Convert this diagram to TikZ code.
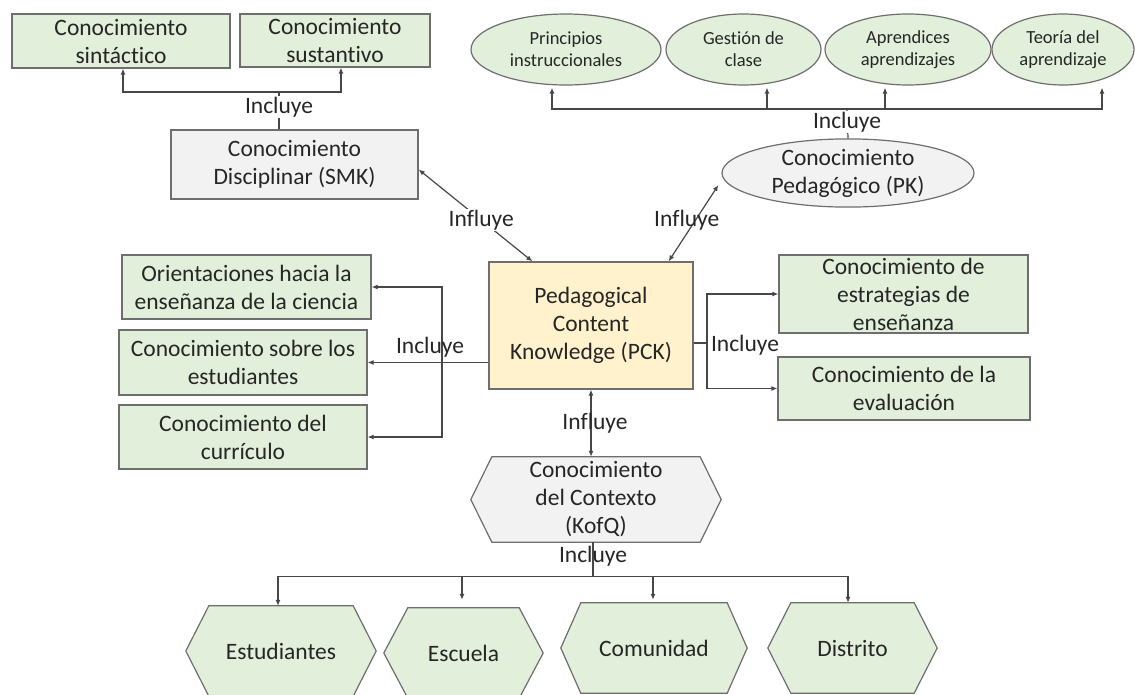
\documentclass[tikz,border=0pt]{standalone}
\usepackage{fontspec}
\setmainfont{Carlito}[Ligatures=NoCommon]
\usetikzlibrary{arrows.meta,calc,shapes.geometric}

\definecolor{greenc}{HTML}{E2EFDA}
\definecolor{pckc}{HTML}{FFF2CC}
\definecolor{grayc}{HTML}{F2F2F2}
\definecolor{bordc}{HTML}{6E6E6E}
\definecolor{linec}{HTML}{474747}
\definecolor{txtc}{HTML}{262626}

\newcommand\mainfs{\fontsize{23.5}{28}\selectfont}
\newcommand\smallfs{\fontsize{18.5}{22}\selectfont}

% hexagon outline drawn around a (rectangular, borderless) node:
% #1 node name, #2 side indent, #3 fill colour
\newcommand\hexoutline[3]{%
  \draw[draw=bordc, line width=1.2pt, fill=#3]
    (#1.west) -- ($(#1.north west)+(#2,0)$) -- ($(#1.north east)+(-#2,0)$)
    -- (#1.east) -- ($(#1.south east)+(-#2,0)$) -- ($(#1.south west)+(#2,0)$)
    -- cycle;}

\pgfdeclarelayer{paper}
\pgfdeclarelayer{shapes}
\pgfsetlayers{paper,shapes,main}

\tikzset{
  txt/.style={text=txtc, font=\mainfs, align=center},
  box/.style={draw=bordc, line width=1.2pt, inner sep=0pt, txt},
  gbox/.style={box, fill=greenc},
  greybox/.style={box, fill=grayc},
  pckbox/.style={box, fill=pckc},
  oval/.style={ellipse, draw=bordc, line width=1.2pt, inner sep=0pt, txt},
  goval/.style={oval, fill=greenc, font=\smallfs},
  hexnode/.style={rectangle, inner sep=0pt, txt},
  lab/.style={txt, inner sep=1pt},
  labw/.style={lab, fill=white},
  conn/.style={draw=linec, line width=1.2pt},
  arr/.style={conn, -{Latex[length=6pt,width=5pt]}},
  darr/.style={conn, {Latex[length=6pt,width=5pt]}-{Latex[length=6pt,width=5pt]}},
}

\begin{document}
\begin{tikzpicture}[x=1pt, y=-1pt]
\useasboundingbox (0,0) rectangle (1135,694);
\begin{pgfonlayer}{paper}
  \fill[white] (0,0) rectangle (1135,694);
\end{pgfonlayer}

% ---- subject matter knowledge ----
\node[gbox, minimum width=218pt, minimum height=54pt] (syn) at (121,41) {Conocimiento\\sintáctico};
\node[gbox, minimum width=190pt, minimum height=53pt] (sus) at (335,40.5) {Conocimiento\\sustantivo};
\node[greybox, minimum width=247pt, minimum height=69pt] (smk) at (294.5,164.5) {Conocimiento\\Disciplinar (SMK)};

\coordinate (smkbus) at (279,92);
\draw[conn] (smk.north -| smkbus) -- (smkbus);
\draw[arr] (smkbus) -| ($(syn.south)+(2,0)$);
\draw[arr] (smkbus) -| ($(sus.south)+(6,0)$);
\node[labw] (inc1) at (279,107) {Incluye};

% ---- pedagogical knowledge ----
\node[goval, minimum width=190pt, minimum height=71pt] (e1) at (566,49.5) {Principios\\instruccionales};
\node[goval, minimum width=155pt, minimum height=71pt] (e2) at (743.5,49.5) {Gestión de\\clase};
\node[goval, minimum width=166pt, minimum height=71pt] (e3) at (908,49.5) {Aprendices\\aprendizajes};
\node[goval, minimum width=142pt, minimum height=71pt] (e4) at (1063,49.5) {Teoría del\\aprendizaje};
\node[oval, fill=grayc, minimum width=252pt, minimum height=62pt] (pk) at (848,173) {Conocimiento\\Pedagógico (PK)};

\coordinate (pkbus) at (847,109);
\draw[conn] (pk.north) -- (pkbus);
\draw[arr] (pkbus) -| ($(e1.south)+(-14,2)$);
\draw[arr] (pkbus) -| ($(e2.south)+(23.5,2)$);
\draw[arr] (pkbus) -| ($(e3.south)+(-23,2)$);
\draw[arr] (pkbus) -| ($(e4.south)+(39,2)$);
\node[labw] (inc2) at (847,122) {Incluye};

% ---- PCK ----
\node[pckbox, minimum width=204pt, minimum height=127pt] (pck) at (591,325.5) {Pedagogical\\Content\\Knowledge (PCK)};

\draw[darr] ($(smk.east)+(0,5)$) -- ($(pck.north west)+(44,0)$)
  node[labw, pos=0.55] (inf1) {Influye};
\draw[darr] ($(pk.west)+(-3,12)$) -- ($(pck.north east)+(-25,0)$)
  node[lab, pos=0.455, xshift=-9pt] (inf2) {Influye};

% ---- left components ----
\node[gbox, minimum width=249pt, minimum height=64pt] (ori) at (246.5,287) {Orientaciones hacia la\\enseñanza de la ciencia};
\node[gbox, minimum width=248pt, minimum height=65pt] (est) at (243,362.5) {Conocimiento sobre los\\estudiantes};
\node[gbox, minimum width=248pt, minimum height=64pt] (cur) at (243,437) {Conocimiento del\\currículo};

\coordinate (lb) at (442,362.5);
\draw[arr] (pck.west |- est.east) -- (est.east);
\draw[arr] (lb) |- (ori.east);
\draw[arr] (lb) |- (cur.east);
\node[lab] (inc3) at (430,347) {Incluye};

% ---- right components ----
\node[gbox, minimum width=249pt, minimum height=78pt] (str) at (903.5,294) {Conocimiento de\\estrategias de\\enseñanza};
\node[gbox, minimum width=252pt, minimum height=63pt] (eva) at (904,388.5) {Conocimiento de la\\evaluación};

\coordinate (rb) at (707,343);
\draw[conn] (pck.east |- rb) -- (rb);
\draw[arr] (rb) |- (str.west);
\draw[arr] (rb) |- (eva.west);
\node[lab] (inc4) at (745,345) {Incluye};

% ---- context knowledge ----
\node[hexnode, minimum width=250pt, minimum height=85pt] (kofq) at (596,499.5) {Conocimiento\\del Contexto\\(KofQ)};

\draw[darr] (pck.south) -- (pck.south |- kofq.north)
  node[lab, midway, xshift=4pt] (inf3) {Influye};

\node[hexnode, minimum width=190pt, minimum height=90pt] (hest) at (281,651) {Estudiantes};
\node[hexnode, minimum width=159pt, minimum height=90pt] (hesc) at (463.5,653) {Escuela};
\node[hexnode, minimum width=186pt, minimum height=90pt] (hcom) at (654,648) {Comunidad};
\node[hexnode, minimum width=169pt, minimum height=90pt] (hdis) at (852.5,648) {Distrito};

\begin{pgfonlayer}{shapes}
  \hexoutline{kofq}{21}{grayc}
  \hexoutline{hest}{23}{greenc}
  \hexoutline{hesc}{24}{greenc}
  \hexoutline{hcom}{20}{greenc}
  \hexoutline{hdis}{23}{greenc}
\end{pgfonlayer}

\coordinate (kb) at ($(kofq.south)+(-3,34)$);
\draw[conn] ($(kofq.south)+(-3,0)$) -- (kb);
\draw[arr] (kb) -| ($(hest.north)+(-3,0)$);
\draw[arr, shorten >=8pt] (kb) -| ($(hesc.north)+(-1.5,0)$);
\draw[arr, shorten >=3pt] (kb) -| ($(hcom.north)+(-1,0)$);
\draw[arr] (kb) -| ($(hdis.north)+(-4.5,0)$);
\node[lab] (inc5) at (593,556) {Incluye};
\end{tikzpicture}
\end{document}
